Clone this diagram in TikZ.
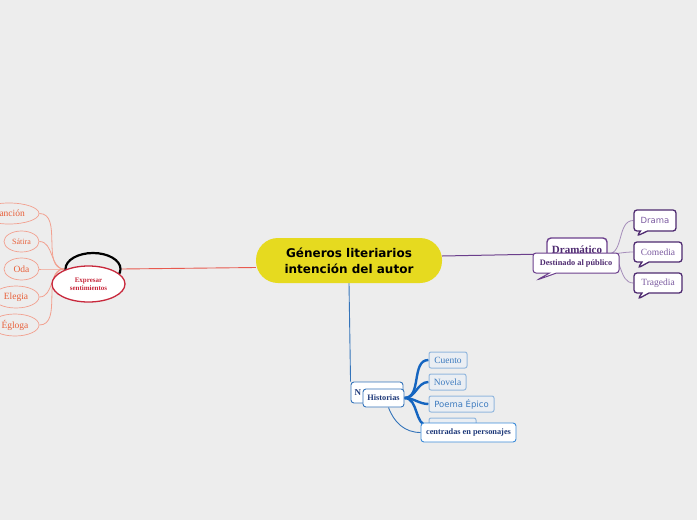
\documentclass[tikz,border=0pt]{standalone}
\usepackage{fontspec}
\setmainfont{Liberation Serif}
\setsansfont{DejaVu Sans}
\usetikzlibrary{shapes.geometric,shapes.callouts}
\definecolor{bg}{HTML}{EDEDED}
\definecolor{yel}{HTML}{E6DA1F}
\definecolor{redl}{HTML}{E85A4F}
\definecolor{salm}{HTML}{F2A08F}
\definecolor{ora}{HTML}{E8603A}
\definecolor{crim}{HTML}{C8283C}
\definecolor{pur}{HTML}{6B3F8C}
\definecolor{lpur}{HTML}{A58DBA}
\definecolor{purtxt}{HTML}{7B5AA0}
\definecolor{purdark}{HTML}{4E2A70}
\definecolor{blul}{HTML}{3474BA}
\definecolor{thb}{HTML}{1565C0}
\definecolor{lblu}{HTML}{93B8DE}
\definecolor{btxt}{HTML}{3D7BBF}
\definecolor{navy}{HTML}{1F3A7A}
\definecolor{bfill}{HTML}{EAEEF3}
\definecolor{cenb}{HTML}{3A8AD8}
\pgfdeclarelayer{back}
\pgfdeclarelayer{edges}
\pgfsetlayers{back,edges,main}
\tikzset{
  ctrbox/.style={fill=yel, rounded corners=22pt, minimum width=186pt, minimum height=45pt, inner sep=0pt, align=center, font=\sffamily\bfseries\fontsize{12}{16}\selectfont},
  lchild/.style={ellipse, draw=salm, line width=0.7pt, fill=bg, text=ora, inner sep=0pt, font=\fontsize{9.5}{11}\selectfont},
  bubble/.style={rectangle callout, draw=purdark, line width=1.3pt, rounded corners=3pt, fill=white, inner sep=0pt, callout pointer width=7pt},
  bchild/.style={draw=lblu, line width=1pt, fill=bfill, rounded corners=2pt, inner sep=0pt, minimum height=16pt, text=btxt},
  redline/.style={draw=redl, line width=0.9pt},
  salmline/.style={draw=salm, line width=0.8pt},
  purline/.style={draw=pur, line width=1pt},
  lpurline/.style={draw=lpur, line width=0.8pt},
  bluline/.style={draw=blul, line width=0.9pt},
  thickline/.style={draw=thb, line width=2.4pt},
}
\begin{document}
\begin{tikzpicture}[x=1pt,y=-1pt]
\begin{pgfonlayer}{back}
\fill[bg] (0,0) rectangle (697,520);
\end{pgfonlayer}
\useasboundingbox (0,0) rectangle (697,520);

% center
\node[ctrbox] (ctr) at (349,260.5) {Géneros literiarios\\intención del autor};

% left branch
\node[ellipse, draw=black, line width=2.2pt, fill=bg, minimum width=55pt, minimum height=32pt, inner sep=0pt] (lir) at (93,269) {};
\node[ellipse, draw=crim, line width=1.3pt, fill=white, minimum width=73pt, minimum height=36pt, inner sep=0pt, align=center, text=crim, font=\bfseries\fontsize{7}{8}\selectfont] (exp) at (88.5,284) {Expresar\\sentimientos};
\node[lchild, minimum width=60pt, minimum height=21pt] (can) at (9,213.5) {Canción};
\node[lchild, minimum width=35pt, minimum height=21pt, font=\fontsize{8}{9}\selectfont] (sat) at (21.5,241.5) {Sátira};
\node[lchild, minimum width=35pt, minimum height=22pt] (oda) at (21.5,269) {Oda};
\node[lchild, minimum width=46pt, minimum height=22pt] (ele) at (16,297) {Elegia};
\node[lchild, minimum width=48pt, minimum height=22pt] (egl) at (15,325) {Égloga};

% right branch
\node[draw=pur, line width=1.4pt, rounded corners=4pt, fill=white, minimum width=60pt, minimum height=24pt, inner sep=0pt, text=purdark, font=\bfseries\fontsize{11}{13}\selectfont] (dram) at (577,250) {Dramático};
\node[bubble, draw=pur, line width=1pt, minimum width=86pt, minimum height=20pt, callout absolute pointer={(537,280)}, text=purdark, font=\bfseries\fontsize{8.3}{10}\selectfont] (dest) at (576,263) {Destinado al público};
\node[bubble, minimum width=42pt, minimum height=21pt, callout absolute pointer={(637,236)}, text=purtxt, font=\sffamily\fontsize{8.5}{10}\selectfont] (drama) at (655,220.5) {Drama};
\node[bubble, minimum width=48pt, minimum height=20pt, callout absolute pointer={(638,268)}, text=purtxt, font=\fontsize{9.5}{11}\selectfont] (com) at (658,252) {Comedia};
\node[bubble, minimum width=48pt, minimum height=20pt, callout absolute pointer={(638,299)}, text=purtxt, font=\fontsize{9.5}{11}\selectfont] (tra) at (658,283) {Tragedia};

% bottom branch
\node[draw=blul, line width=0.9pt, rounded corners=3pt, fill=white, minimum width=52pt, minimum height=21pt, inner sep=0pt, text width=45pt, align=left, text=navy, font=\bfseries\fontsize{9}{10}\selectfont] (nar) at (377,392.5) {N};
\node[draw=blul, line width=0.9pt, rounded corners=3pt, fill=white, minimum width=41pt, minimum height=18pt, inner sep=0pt, text=navy, font=\bfseries\fontsize{8.3}{10}\selectfont] (hist) at (383.5,398) {Historias};
\node[bchild, minimum width=38pt, font=\fontsize{9.5}{11}\selectfont] (cue) at (448,360) {Cuento};
\node[bchild, minimum width=37pt, font=\fontsize{9.5}{11}\selectfont] (nov) at (447.5,382) {Novela};
\node[bchild, minimum width=65pt, font=\sffamily\fontsize{8.5}{10}\selectfont] (poe) at (461.5,404) {Poema Épico};
\node[bchild, minimum width=47pt] (hid) at (452.5,426) {};
\node[draw=cenb, line width=0.9pt, rounded corners=3pt, fill=white, minimum width=95pt, minimum height=19pt, inner sep=0pt, text=navy, font=\bfseries\fontsize{8.3}{10}\selectfont] (cen) at (468.5,432.5) {centradas en personajes};

\begin{pgfonlayer}{edges}
\draw[redline] ([yshift=-7pt]ctr.west) -- (lir.east);
\foreach \c in {can,sat,oda,ele,egl}{
  \draw[salmline] (lir.west) to[out=180,in=0] (\c.east);
}
\draw[purline] ([yshift=4.5pt]ctr.east) -- ([yshift=-4pt]dram.west);
\foreach \c in {drama,com,tra}{
  \draw[lpurline] ([yshift=-4pt]dram.east) to[out=0,in=180] (\c.west);
}
\draw[bluline] (ctr.south) -- (nar.north west);
\foreach \c in {cue,nov,poe,hid}{
  \draw[thickline] (hist.east) to[out=0,in=180] (\c.west);
}
\draw[bluline] ([xshift=5pt]hist.south) to[out=-70,in=180] (cen.west);
\end{pgfonlayer}
\end{tikzpicture}
\end{document}
